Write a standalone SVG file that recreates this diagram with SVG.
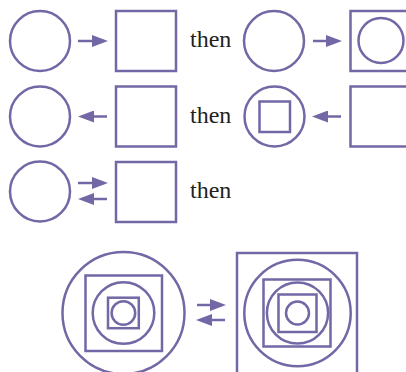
<svg xmlns="http://www.w3.org/2000/svg" width="406" height="372" viewBox="0 0 406 372">
<defs>
<style>
.s{fill:none;stroke:#7367a6;stroke-width:2.5}
.c{fill:none;stroke:#7367a6;stroke-width:2.5}
.t{font-family:"Liberation Serif","Times New Roman",serif;font-size:24px;fill:#231f20}
</style>
<marker id="ah" markerUnits="userSpaceOnUse" markerWidth="17" markerHeight="12" refX="1" refY="6" orient="auto">
<path d="M0,0 L16,6 L0,12 Z" fill="#7367a6"/>
</marker>
</defs>
<rect width="406" height="372" fill="#ffffff"/>
<g id="row1-left">
<circle class="s" cx="40" cy="41" r="30"/>
<rect class="s" x="116" y="11" width="60" height="60"/>
</g>
<g id="row1-right">
<circle class="s" cx="274" cy="41" r="30"/>
<rect class="s" x="350.5" y="11" width="60" height="60"/>
<circle class="s" cx="381" cy="40.5" r="22.5"/>
</g>
<g id="row2-left">
<circle class="s" cx="40" cy="116.5" r="30"/>
<rect class="s" x="116" y="86.5" width="60" height="60"/>
</g>
<g id="row2-right">
<circle class="s" cx="274.5" cy="116.5" r="30"/>
<rect class="s" x="259.5" y="101.5" width="30.5" height="30.5"/>
<rect class="s" x="350.5" y="86.5" width="60" height="60"/>
</g>
<g id="row3-left">
<circle class="s" cx="40" cy="191.5" r="30"/>
<rect class="s" x="116" y="162" width="60" height="60"/>
</g>
<g id="bottom-left">
<circle class="s" cx="123.5" cy="313" r="61"/>
<rect class="s" x="85.5" y="275.5" width="76.5" height="75.5"/>
<circle class="s" cx="123.5" cy="313" r="30.8"/>
<rect class="s" x="108" y="297.7" width="30.8" height="30.5"/>
<circle class="s" cx="123.4" cy="313" r="11.8"/>
</g>
<g id="bottom-right">
<rect class="s" x="237" y="253" width="120" height="125"/>
<circle class="s" cx="297.5" cy="313" r="53.2"/>
<rect class="s" x="263.5" y="279.5" width="67" height="67"/>
<circle class="s" cx="297.5" cy="313" r="30.6"/>
<rect class="s" x="278.5" y="294.5" width="38" height="37.5"/>
<circle class="s" cx="297.5" cy="313" r="11.5"/>
</g>
<g id="labels">
<text class="t" x="190" y="47">then</text>
<text class="t" x="190" y="122.5">then</text>
<text class="t" x="190" y="197.5">then</text>
</g>
<g id="connectors" stroke="#7367a6" stroke-width="2.5" fill="none">
<line x1="78" y1="41" x2="93" y2="41" marker-end="url(#ah)"/>
<line x1="313" y1="41" x2="327" y2="41" marker-end="url(#ah)"/>
<line x1="107" y1="116.5" x2="93" y2="116.5" marker-end="url(#ah)"/>
<line x1="341" y1="116.5" x2="327" y2="116.5" marker-end="url(#ah)"/>
<line x1="78" y1="183" x2="93" y2="183" marker-end="url(#ah)"/>
<line x1="107" y1="199" x2="93" y2="199" marker-end="url(#ah)"/>
<line x1="197" y1="305" x2="211" y2="305" marker-end="url(#ah)"/>
<line x1="225" y1="320" x2="211" y2="320" marker-end="url(#ah)"/>
</g>
</svg>
